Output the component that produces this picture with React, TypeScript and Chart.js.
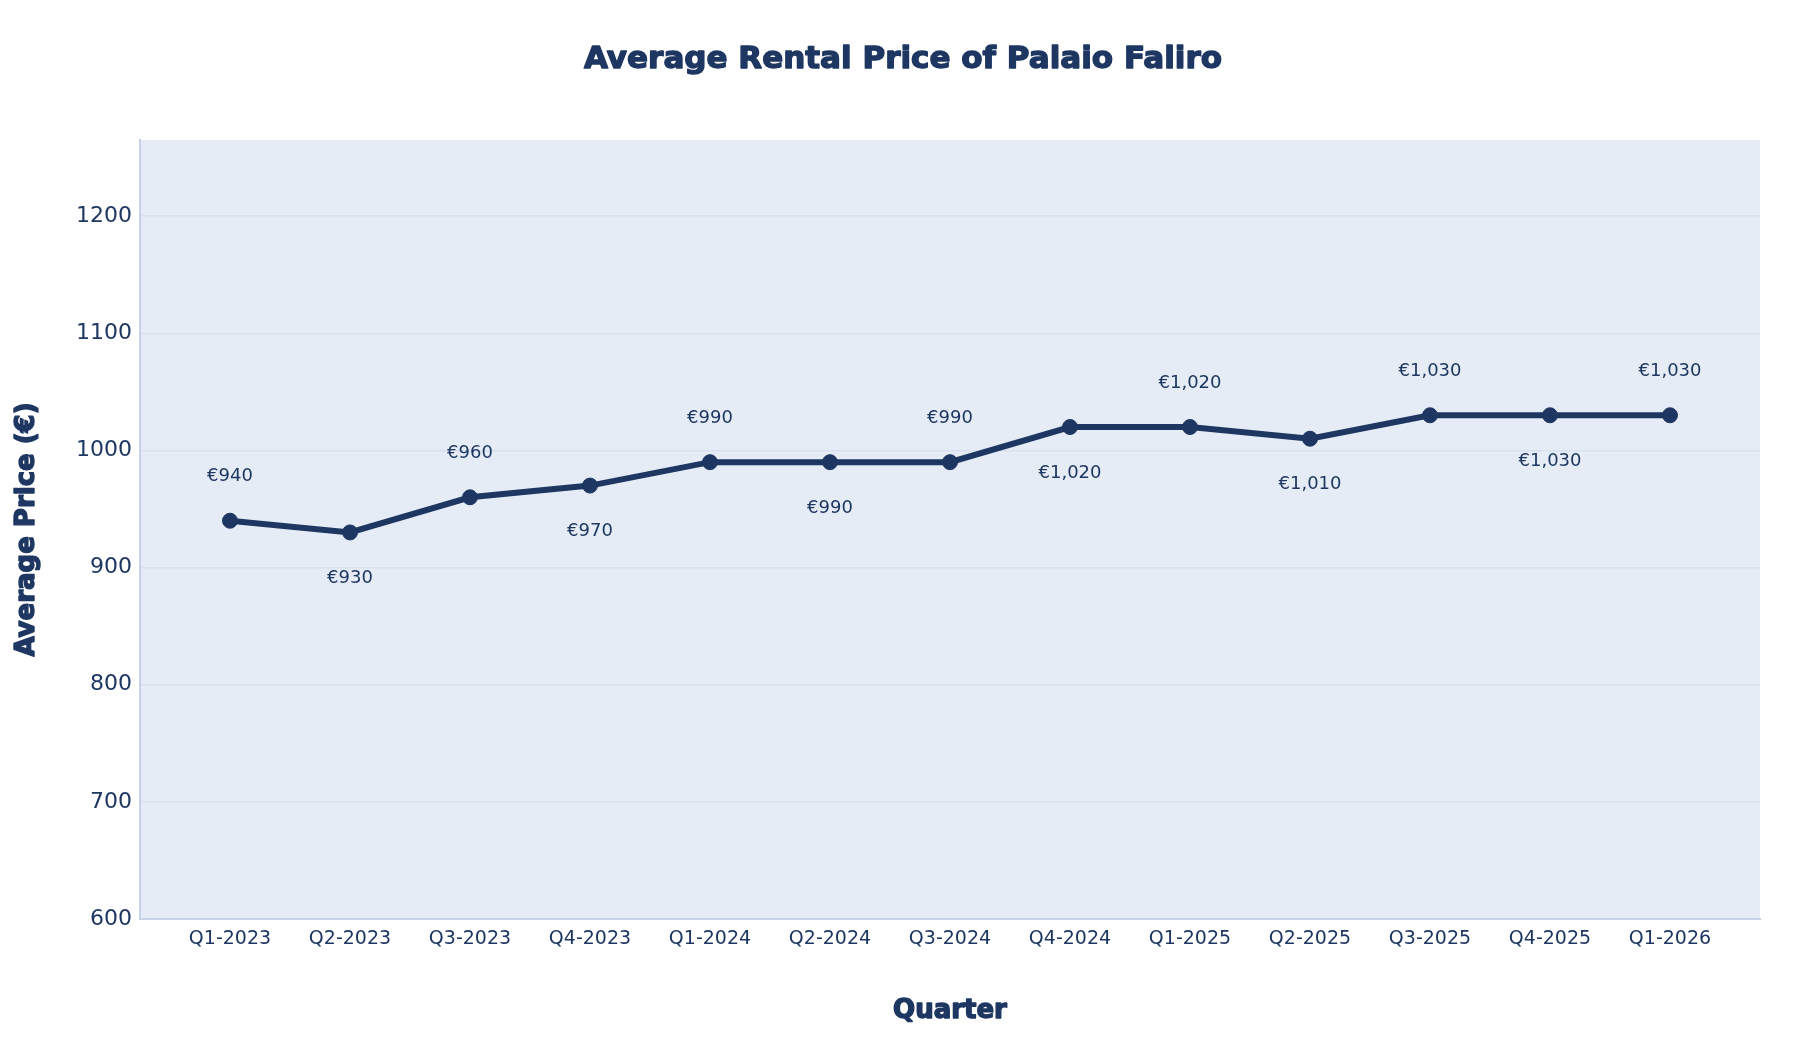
import React, { useEffect, useRef } from 'react';
import { Chart, registerables } from 'chart.js';

Chart.register(...registerables);

const chartTitle = 'Average Rental Price of Palaio Faliro';
const xAxisTitle = 'Quarter';
const yAxisTitle = 'Average Price (€)';

const quarters = [
  'Q1-2023', 'Q2-2023', 'Q3-2023', 'Q4-2023',
  'Q1-2024', 'Q2-2024', 'Q3-2024', 'Q4-2024',
  'Q1-2025', 'Q2-2025', 'Q3-2025', 'Q4-2025',
  'Q1-2026',
];
const prices = [940, 930, 960, 970, 990, 990, 990, 1020, 1020, 1010, 1030, 1030, 1030];
const labelSides = ['top', 'bottom', 'top', 'bottom', 'top', 'bottom', 'top', 'bottom', 'top', 'bottom', 'top', 'bottom', 'top'];
const yTicks = [600, 700, 800, 900, 1000, 1100, 1200];

const NAVY = '#1e3762';
const PLOT_BG = '#e5ecf6';
const GRID = '#d8e1ee';
const AXIS_LINE = '#c6d3e6';
const FONT = "'DejaVu Sans', Verdana, sans-serif";

const fmt = (v: number) => '€' + v.toLocaleString('en-US');

const plotBgPlugin = {
  id: 'plotBg',
  beforeDraw(chart: any) {
    const { ctx, chartArea } = chart;
    ctx.save();
    ctx.fillStyle = PLOT_BG;
    ctx.fillRect(chartArea.left, chartArea.top, chartArea.right - chartArea.left, chartArea.bottom - chartArea.top);
    ctx.restore();
  },
};

const dataLabelPlugin = {
  id: 'dataLabels',
  afterDatasetsDraw(chart: any) {
    const { ctx } = chart;
    const meta = chart.getDatasetMeta(0);
    ctx.save();
    ctx.font = `18px ${FONT}`;
    ctx.fillStyle = NAVY;
    ctx.textAlign = 'center';
    ctx.textBaseline = 'middle';
    meta.data.forEach((pt: any, i: number) => {
      const dy = labelSides[i] === 'top' ? -44 : 46;
      ctx.fillText(fmt(prices[i]), pt.x, pt.y + dy);
    });
    ctx.restore();
  },
};

function heavyText(ctx: CanvasRenderingContext2D, text: string, x: number, y: number, size: number, rot = 0) {
  ctx.save();
  ctx.translate(x, y);
  if (rot) ctx.rotate(rot);
  ctx.font = `bold ${size}px ${FONT}`;
  ctx.fillStyle = NAVY;
  ctx.strokeStyle = NAVY;
  ctx.lineWidth = 1.4;
  ctx.lineJoin = 'round';
  ctx.textAlign = 'center';
  ctx.textBaseline = 'middle';
  ctx.fillText(text, 0, 0);
  ctx.strokeText(text, 0, 0);
  ctx.restore();
}

const titlesPlugin = {
  id: 'titles',
  afterDraw(chart: any) {
    const { ctx, chartArea } = chart;
    heavyText(ctx, chartTitle, 903, 60, 31);
    heavyText(ctx, xAxisTitle, (chartArea.left + chartArea.right) / 2, 1011, 26);
    heavyText(ctx, yAxisTitle, 27, (chartArea.top + chartArea.bottom) / 2, 26, -Math.PI / 2);
  },
};

export default function App() {
  const ref = useRef<HTMLCanvasElement | null>(null);

  useEffect(() => {
    document.body.style.margin = '0';
    if (!ref.current) return;
    const chart = new Chart(ref.current, {
      type: 'line',
      data: {
        datasets: [
          {
            label: 'Average Price',
            data: prices.map((v, i) => ({ x: i, y: v })),
            borderColor: NAVY,
            backgroundColor: NAVY,
            borderWidth: 6,
            pointRadius: 7.5,
            pointBorderWidth: 1,
            pointBackgroundColor: NAVY,
            pointBorderColor: NAVY,
            tension: 0,
            fill: false,
          },
        ],
      },
      options: {
        responsive: false,
        animation: false,
        devicePixelRatio: 1,
        layout: { padding: { top: 140, right: 40, left: 0, bottom: 0 } },
        plugins: {
          legend: { display: false },
          title: { display: false },
          tooltip: { enabled: false },
        },
        scales: {
          x: {
            type: 'linear',
            min: -0.75,
            max: 12.75,
            afterBuildTicks: (scale: any) => {
              scale.ticks = quarters.map((_, i) => ({ value: i }));
            },
            afterFit: (scale: any) => {
              scale.height = 121;
            },
            ticks: {
              autoSkip: false,
              maxRotation: 0,
              padding: 9,
              color: NAVY,
              font: { family: FONT, size: 19 },
              callback: (v: any) => quarters[Number(v)] ?? '',
            },
            grid: { display: false, drawTicks: false },
            border: { display: true, color: AXIS_LINE, width: 2 },
          },
          y: {
            type: 'linear',
            min: 600,
            max: 1265,
            afterBuildTicks: (scale: any) => {
              scale.ticks = yTicks.map((v) => ({ value: v }));
            },
            afterFit: (scale: any) => {
              scale.width = 140;
            },
            ticks: {
              padding: 8,
              color: NAVY,
              font: { family: FONT, size: 22 },
              callback: (v: any) => String(v),
            },
            grid: { color: GRID, lineWidth: 1.5, drawTicks: false },
            border: { display: true, color: AXIS_LINE, width: 2 },
          },
        },
      },
      plugins: [plotBgPlugin, dataLabelPlugin, titlesPlugin],
    } as any);
    return () => chart.destroy();
  }, []);

  return (
    <div style={{ width: 1800, height: 1040, background: '#ffffff' }}>
      <canvas ref={ref} width={1800} height={1040} style={{ width: 1800, height: 1040, display: 'block' }} />
    </div>
  );
}
